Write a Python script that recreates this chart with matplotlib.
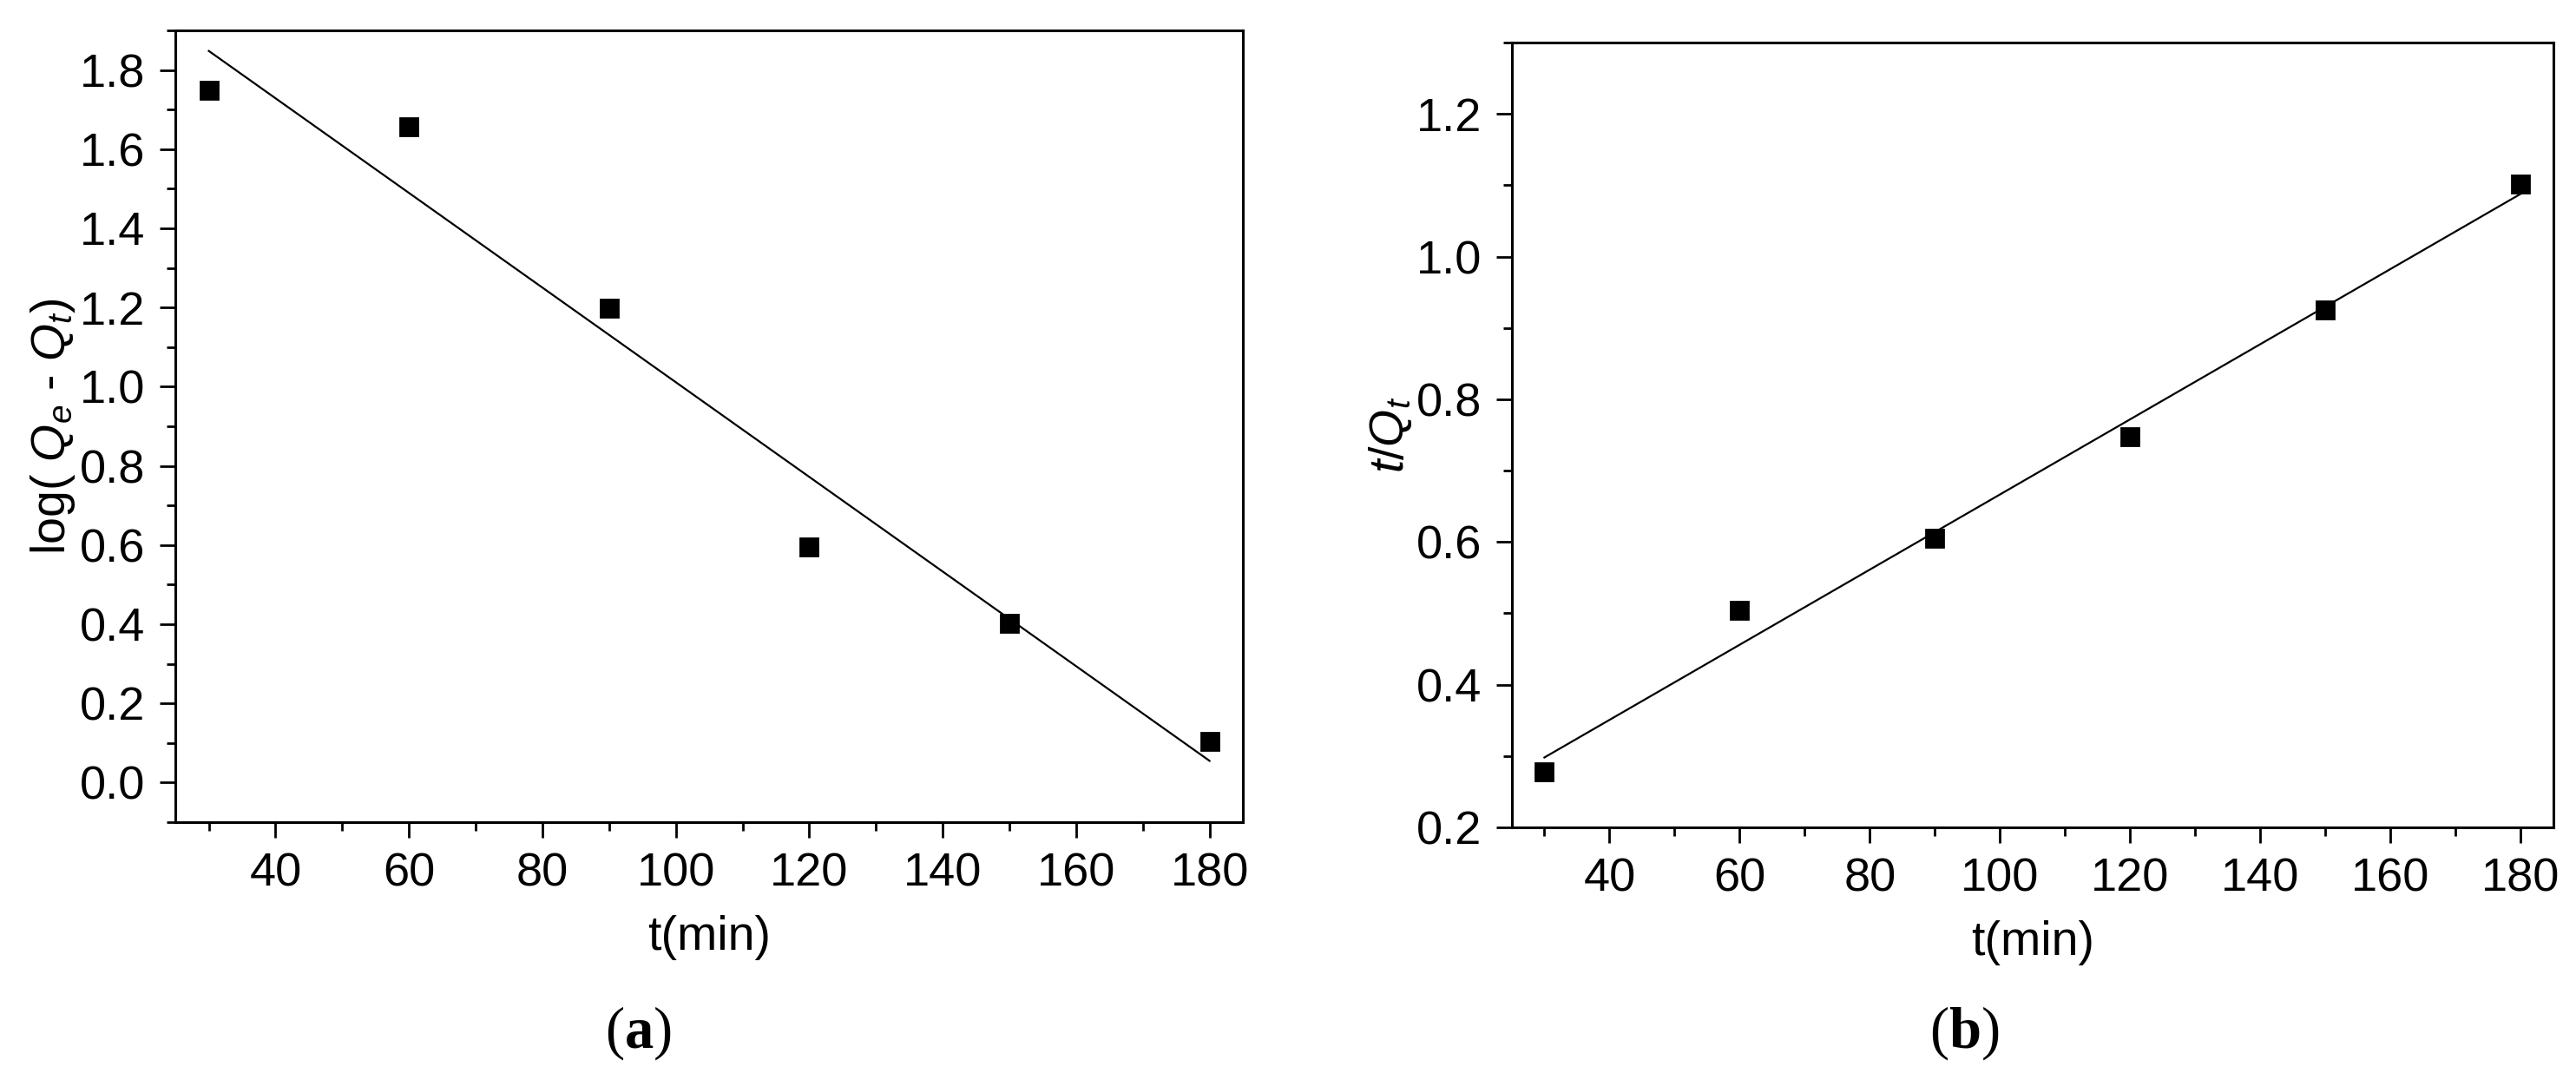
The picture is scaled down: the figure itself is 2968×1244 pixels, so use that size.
import matplotlib
matplotlib.use('Agg')
import numpy as np
import matplotlib.pyplot as plt
from matplotlib.ticker import MultipleLocator

# data
t = [30, 60, 90, 120, 150, 180]
log_qe_qt = [1.748, 1.657, 1.199, 0.595, 0.403, 0.105]
t_over_qt = [0.278, 0.504, 0.605, 0.747, 0.925, 1.102]

# fitted lines (end points at t=30 and t=180)
fit_t = [30, 180]
fit_a = [1.848, 0.055]
fit_b = [0.298, 1.088]

plt.rcParams['font.family'] = 'Liberation Sans'
plt.rcParams['mathtext.fontset'] = 'custom'
plt.rcParams['mathtext.rm'] = 'Liberation Sans'
plt.rcParams['mathtext.it'] = 'Liberation Sans:italic'
plt.rcParams['mathtext.bf'] = 'Liberation Serif:bold'

fig = plt.figure(figsize=(14.84, 6.22), dpi=200)
axa = fig.add_axes([0.0681, 0.2387, 0.4144, 0.7332])
axb = fig.add_axes([0.5869, 0.2339, 0.4043, 0.7267])


def style(ax):
  for s in ax.spines.values():
    s.set_linewidth(1.1)
  ax.tick_params(which='both', direction='out', width=1.0, top=False, right=False,
                 labelsize=19.5, pad=6)
  ax.tick_params(which='major', length=6.5)
  ax.tick_params(which='minor', length=3.6)
  ax.set_xlim(25, 185)
  ax.xaxis.set_minor_locator(MultipleLocator(10))
  ax.set_xticks([40, 60, 80, 100, 120, 140, 160, 180])
  ax.set_xlabel('t(min)', fontsize=20, labelpad=8)


# (a) pseudo-first-order
axa.plot(fit_t, fit_a, color='black', lw=0.8)
axa.plot(t, log_qe_qt, 's', color='black', ms=7)
style(axa)
axa.set_ylim(-0.1, 1.9)
axa.yaxis.set_major_locator(MultipleLocator(0.2))
axa.yaxis.set_minor_locator(MultipleLocator(0.1))
axa.yaxis.set_major_formatter(matplotlib.ticker.FormatStrFormatter('%.1f'))
axa.set_ylabel(r'log( $Q_e$ - $Q_t$)', fontsize=20, labelpad=1)

# (b) pseudo-second-order
axb.plot(fit_t, fit_b, color='black', lw=0.8)
axb.plot(t, t_over_qt, 's', color='black', ms=7)
style(axb)
axb.set_ylim(0.2, 1.3)
axb.set_yticks([0.2, 0.4, 0.6, 0.8, 1.0, 1.2])
axb.yaxis.set_minor_locator(MultipleLocator(0.1))
axb.yaxis.set_major_formatter(matplotlib.ticker.FormatStrFormatter('%.1f'))
axb.set_ylabel(r'$t/Q_t$', fontsize=20, labelpad=1)

fig.text(735 / 2968, 1 - 1190 / 1244, r'($\mathbf{a}$)', ha='center', va='center',
         fontsize=24, family='Liberation Serif')
fig.text(2263 / 2968, 1 - 1190 / 1244, r'($\mathbf{b}$)', ha='center', va='center',
         fontsize=24, family='Liberation Serif')

fig.savefig('out.png', dpi=200)
